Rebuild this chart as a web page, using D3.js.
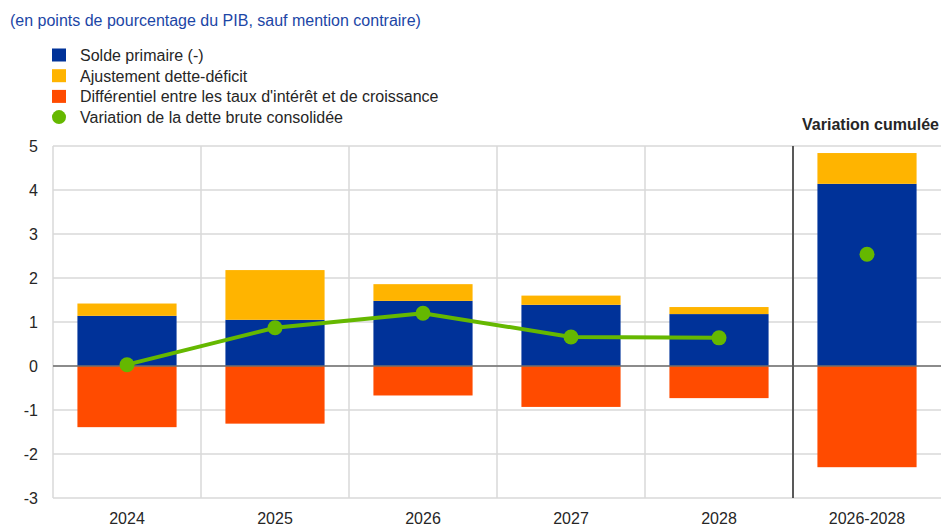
<!DOCTYPE html>
<meta charset="utf-8">
<html>
<style>
  body { margin: 0; background: #fff; }
  svg text { font-family: Arial, "Liberation Sans", sans-serif; }
</style>
<body>
<div id="chart"></div>
<script src="https://d3js.org/d3.v7.min.js"></script>
<script>
// categories and values
var categories = ["2024", "2025", "2026", "2027", "2028", "2026-2028"];
var soldePrimaire = [1.14, 1.05, 1.48, 1.39, 1.18, 4.14];
var ajustement = [0.28, 1.13, 0.38, 0.21, 0.16, 0.70];
var differentiel = [-1.39, -1.31, -0.67, -0.93, -0.73, -2.30];
var variationDette = [0.03, 0.87, 1.20, 0.66, 0.64, 2.54];
var yTicks = [-3, -2, -1, 0, 1, 2, 3, 4, 5];

var colors = { blue: "#003299", yellow: "#ffb400", orange: "#ff4b00", green: "#65b800" };

var width = 941, height = 527;
var margin = { top: 146, right: 0, bottom: 29, left: 53 };

var svg = d3.select("#chart").append("svg")
  .attr("width", width).attr("height", height);

var x = d3.scaleBand().domain(categories)
  .range([margin.left, width - margin.right])
  .paddingInner(0).paddingOuter(0);
var y = d3.scaleLinear().domain([-3, 5]).range([height - margin.bottom, margin.top]);
var barW = x.bandwidth() * 0.67;

// title
svg.append("text").attr("x", 10).attr("y", 26)
  .style("font-size", "16px").style("fill", "#1c46a6")
  .text("(en points de pourcentage du PIB, sauf mention contraire)");

// legend
var legend = [
  { label: "Solde primaire (-)", color: colors.blue, shape: "rect" },
  { label: "Ajustement dette-déficit", color: colors.yellow, shape: "rect" },
  { label: "Différentiel entre les taux d'intérêt et de croissance", color: colors.orange, shape: "rect" },
  { label: "Variation de la dette brute consolidée", color: colors.green, shape: "circle" }
];
var lg = svg.selectAll("g.legend").data(legend).enter().append("g")
  .attr("class", "legend")
  .attr("transform", function (d, i) { return "translate(52," + (55 + i * 20.7) + ")"; });
lg.filter(function (d) { return d.shape === "rect"; }).append("rect")
  .attr("x", 0).attr("y", -6.5).attr("width", 14).attr("height", 13)
  .attr("fill", function (d) { return d.color; });
lg.filter(function (d) { return d.shape === "circle"; }).append("circle")
  .attr("cx", 7).attr("cy", 0).attr("r", 7)
  .attr("fill", function (d) { return d.color; });
lg.append("text").attr("x", 28).attr("y", 6)
  .style("font-size", "16px").style("fill", "#262626")
  .text(function (d) { return d.label; });

// grid
svg.selectAll("line.hgrid").data(yTicks).enter().append("line")
  .attr("x1", margin.left).attr("x2", width - margin.right)
  .attr("y1", function (d) { return y(d); }).attr("y2", function (d) { return y(d); })
  .attr("stroke", "#d9d9d9").attr("stroke-width", 1.5);
svg.selectAll("line.vgrid").data(categories.slice(0, 5)).enter().append("line")
  .attr("x1", function (d) { return x(d); }).attr("x2", function (d) { return x(d); })
  .attr("y1", y(5)).attr("y2", y(-3))
  .attr("stroke", "#d9d9d9").attr("stroke-width", 1.5);

// y tick labels
svg.selectAll("text.ytick").data(yTicks).enter().append("text")
  .attr("x", 38).attr("y", function (d) { return y(d) + 6; })
  .attr("text-anchor", "end")
  .style("font-size", "16px").style("fill", "#262626")
  .text(function (d) { return d; });

// x tick labels
svg.selectAll("text.xtick").data(categories).enter().append("text")
  .attr("x", function (d) { return x(d) + x.bandwidth() / 2; })
  .attr("y", 524)
  .attr("text-anchor", "middle")
  .style("font-size", "16px").style("fill", "#262626")
  .text(function (d) { return d; });

// bars
var rows = categories.map(function (c, i) {
  return { cat: c, blue: soldePrimaire[i], yellow: ajustement[i], orange: differentiel[i] };
});
var bx = function (d) { return x(d.cat) + (x.bandwidth() - barW) / 2; };

svg.selectAll("rect.blue").data(rows).enter().append("rect")
  .attr("x", bx).attr("width", barW)
  .attr("y", function (d) { return y(d.blue); })
  .attr("height", function (d) { return y(0) - y(d.blue); })
  .attr("fill", colors.blue);
svg.selectAll("rect.yellow").data(rows).enter().append("rect")
  .attr("x", bx).attr("width", barW)
  .attr("y", function (d) { return y(d.blue + d.yellow); })
  .attr("height", function (d) { return y(d.blue) - y(d.blue + d.yellow); })
  .attr("fill", colors.yellow);
svg.selectAll("rect.orange").data(rows).enter().append("rect")
  .attr("x", bx).attr("width", barW)
  .attr("y", y(0))
  .attr("height", function (d) { return y(d.orange) - y(0); })
  .attr("fill", colors.orange);

// zero line
svg.append("line")
  .attr("x1", margin.left).attr("x2", width - margin.right)
  .attr("y1", y(0)).attr("y2", y(0))
  .attr("stroke", "#6e6e6e").attr("stroke-width", 1.5);

// separator before cumulative column
var sepX = x("2026-2028");
svg.append("line")
  .attr("x1", sepX).attr("x2", sepX)
  .attr("y1", y(5)).attr("y2", y(-3))
  .attr("stroke", "#595959").attr("stroke-width", 2);
svg.append("text")
  .attr("x", width - 2).attr("y", 130)
  .attr("text-anchor", "end")
  .style("font-size", "16px").style("font-weight", "bold").style("fill", "#262626")
  .text("Variation cumulée");

// line + dots
var pts = categories.map(function (c, i) { return { cat: c, v: variationDette[i] }; });
var cx = function (d) { return x(d.cat) + x.bandwidth() / 2; };
svg.append("path")
  .datum(pts.slice(0, 5))
  .attr("fill", "none").attr("stroke", colors.green).attr("stroke-width", 4)
  .attr("d", d3.line().x(cx).y(function (d) { return y(d.v); }));
svg.selectAll("circle.dot").data(pts).enter().append("circle")
  .attr("cx", cx).attr("cy", function (d) { return y(d.v); })
  .attr("r", 7.5).attr("fill", colors.green);
</script>
</body>
</html>
